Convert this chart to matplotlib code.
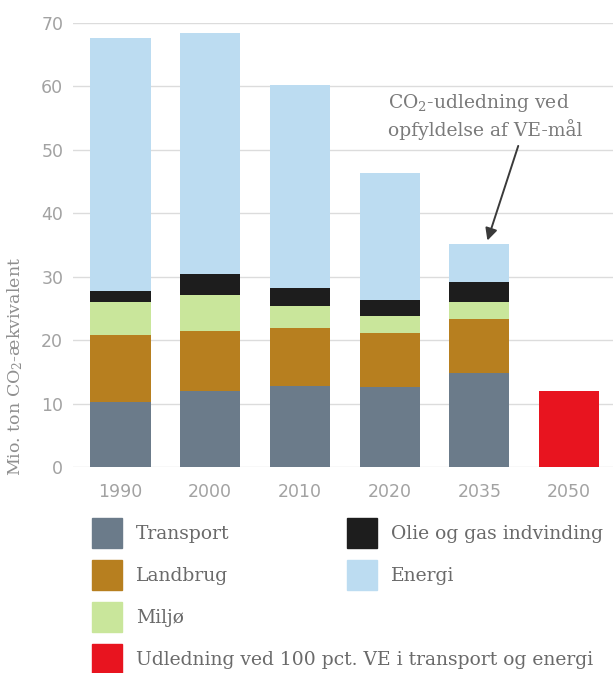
import numpy as np
import matplotlib.pyplot as plt
from matplotlib.patches import Patch

plt.rcParams['font.family'] = 'DejaVu Serif'
plt.rcParams['mathtext.fontset'] = 'dejavuserif'

years = ['1990', '2000', '2010', '2020', '2035', '2050']
transport = [10.3, 12.0, 12.8, 12.7, 14.9, 0]
landbrug = [10.6, 9.5, 9.1, 8.5, 8.5, 0]
miljoe = [5.1, 5.7, 3.5, 2.6, 2.6, 0]
olie_gas = [1.8, 3.2, 2.8, 2.5, 3.1, 0]
energi = [39.8, 38.0, 32.0, 20.1, 6.0, 0]
ve_2050 = [0, 0, 0, 0, 0, 12.0]

names = ['Transport', 'Landbrug', 'Miljø', 'Olie og gas indvinding', 'Energi']
colors = ['#6b7b8a', '#b77f1f', '#c9e69b', '#1d1d1d', '#bcdcf1']
red = '#e8141f'

fig = plt.figure(figsize=(6.13, 6.73), dpi=100)
ax = fig.add_axes([0.119, 0.3057, 0.881, 0.6606])

x = np.arange(len(years))
w = 0.67
bottom = np.zeros(len(years))
for vals, c in zip([transport, landbrug, miljoe, olie_gas, energi], colors):
    ax.bar(x, vals, w, bottom=bottom, color=c, zorder=2)
    bottom += np.array(vals)
ax.bar(x, ve_2050, w, color=red, zorder=2)

ax.set_xlim(-0.53, 5.49)
ax.set_ylim(0, 70)
ax.set_yticks(range(0, 71, 10))
ax.set_xticks(x)
ax.set_xticklabels(years)
ax.grid(axis='y', color='#dcdcdc', lw=1, zorder=0)
for s in ax.spines.values():
    s.set_visible(False)
ax.tick_params(length=0, colors='#a2a2a2', labelsize=12.5)
for lab in ax.get_xticklabels() + ax.get_yticklabels():
    lab.set_family('DejaVu Sans')
ax.tick_params(axis='x', pad=11)
ax.tick_params(axis='y', pad=7)

fig.text(15 / 613, 1 - 367 / 673, 'Mio. ton CO$_2$-ækvivalent', rotation=90,
         ha='center', va='center', color='#8f8f8f', fontsize=12.5)

ax.annotate('CO$_2$-udledning ved\nopfyldelse af VE-mål', xy=(4.09, 35.7),
            xytext=(2.98, 55.3), ha='left', va='center', color='#7a7a7a',
            fontsize=13.5, linespacing=1.35,
            arrowprops=dict(arrowstyle='-|>', color='#3a3a3a', lw=1.4,
                            mutation_scale=18, shrinkA=2, shrinkB=0,
                            relpos=(0.68, 0.0)))

h1 = [Patch(color=colors[0]), Patch(color=colors[1]), Patch(color=colors[2]),
      Patch(color=red)]
l1 = [names[0], names[1], names[2], 'Udledning ved 100 pct. VE i transport og energi']
h2 = [Patch(color=colors[3]), Patch(color=colors[4])]
l2 = [names[3], names[4]]

kw = dict(frameon=False, fontsize=13.5, labelcolor='#6a6a6a', borderpad=0,
          borderaxespad=0, handlelength=1.6, handleheight=2.08,
          handletextpad=0.75, labelspacing=0.64, loc='upper left')
fig.legend(h1, l1, bbox_to_anchor=(92 / 613, 1 - 518 / 673), **kw)
fig.legend(h2, l2, bbox_to_anchor=(347 / 613, 1 - 518 / 673), **kw)

fig.savefig('out.png', dpi=100)
